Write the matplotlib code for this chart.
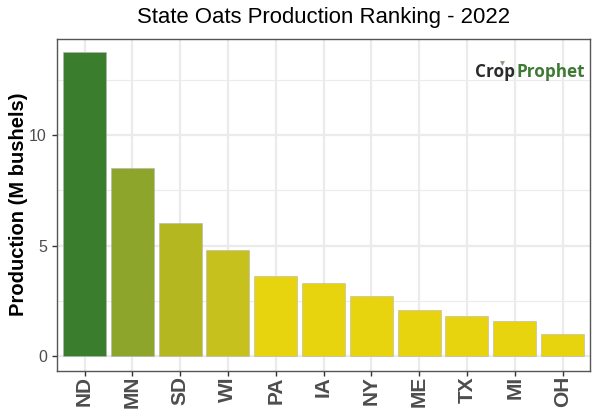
import numpy as np
import matplotlib
matplotlib.use("Agg")
import matplotlib.pyplot as plt
from matplotlib.colors import LinearSegmentedColormap, Normalize
from matplotlib.lines import Line2D

states = ["ND", "MN", "SD", "WI", "PA", "IA", "NY", "ME", "TX", "MI", "OH"]
production = [13.75, 8.5, 6.0, 4.8, 3.6, 3.3, 2.7, 2.1, 1.8, 1.6, 1.0]
y_ticks = [0, 5, 10]
y_minor = [2.5, 7.5, 12.5]

plt.rcParams["font.family"] = ["Liberation Sans", "DejaVu Sans"]

W, H = 600, 420
fig = plt.figure(figsize=(W / 100, H / 100), dpi=100)
ax = fig.add_axes([56.5 / W, 1 - 370.5 / H, (590 - 56.5) / W, (370.5 - 38.5) / H])

# fill colour follows the value, yellow up to about 3.6 then into green
cmap = LinearSegmentedColormap.from_list("oats", [
    (0.0, "#E8D40E"),
    (0.26, "#E8D40E"),
    (0.35, "#C6C11C"),
    (0.44, "#B3B620"),
    (0.62, "#8DA52A"),
    (1.0, "#3A7D2C"),
])
norm = Normalize(0, 13.75)

x = np.arange(len(states))
ax.bar(x, production, width=0.9, color=cmap(norm(production)), edgecolor="#b5b5b5",
       linewidth=0.4, zorder=3)

ax.set_xlim(-0.586, len(states) - 0.425)
ax.set_ylim(-0.656, 14.37)
ax.set_xticks(x)
ax.set_xticklabels(states, rotation=90, fontsize=15, fontweight="bold", color="#4d4d4d")
ax.set_yticks(y_ticks)
ax.set_yticks(y_minor, minor=True)
ax.tick_params(axis="y", which="major", labelsize=11.5, labelcolor="#4d4d4d", color="#333333",
               length=3.5, width=1)
ax.tick_params(axis="y", which="minor", length=0)
ax.tick_params(axis="x", color="#333333", length=3.5, width=1, pad=0.5)

ax.grid(True, which="major", color="#ebebeb", linewidth=1.6, zorder=0)
ax.grid(True, which="minor", axis="y", color="#ebebeb", linewidth=0.8, zorder=0)
ax.set_axisbelow(True)
for s in ax.spines.values():
    s.set_color("#555555")
    s.set_linewidth(1)

ax.set_ylabel("Production (M bushels)", fontsize=14.5, fontweight="bold")
ax.yaxis.set_label_coords(28 / W, 1 - 204.5 / H, transform=fig.transFigure)
fig.text(324 / W, 1 - 17 / H, "State Oats Production Ranking - 2022", fontsize=15.9,
         ha="center", va="center", color="black")

# logo text and its little sprout
fig.text(475.5 / W, 1 - 72 / H, "Crop", fontsize=12.3, fontfamily="Open Sans", fontweight="bold",
         color="#2b2b2b", ha="left", va="center")
fig.text(585.5 / W, 1 - 72 / H, "Prophet", fontsize=12.3, fontfamily="Open Sans", fontweight="bold",
         color="#3f7a35", ha="right", va="center")
fig.add_artist(Line2D([502 / W], [1 - 63 / H], marker="v", markersize=3.5, color="#8a9a80",
                      markeredgewidth=0, transform=fig.transFigure))

fig.savefig("out.png", dpi=100)
